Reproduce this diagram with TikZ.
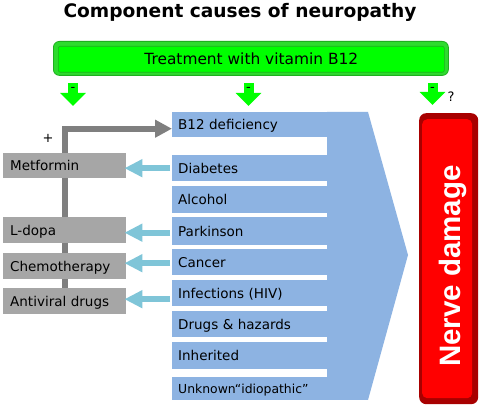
\documentclass[tikz,border=0pt]{standalone}
\usepackage{fontspec}
\setmainfont{DejaVu Sans}
\newfontfamily\nervefont{Liberation Sans}
\usetikzlibrary{arrows.meta}
\pgfdeclarelayer{background}
\pgfdeclarelayer{paper}
\pgfsetlayers{paper,background,main}
\definecolor{rowblue}{HTML}{8DB3E2}
\definecolor{boxgray}{HTML}{A6A6A6}
\definecolor{linegray}{HTML}{7F7F7F}
\definecolor{arrowaqua}{HTML}{7FC5D8}
\definecolor{gfill}{HTML}{00FF00}
\definecolor{gouter}{HTML}{2EDB2E}
\definecolor{gedge}{HTML}{1FAF1F}
\definecolor{redfill}{HTML}{FF0000}
\definecolor{reddark}{HTML}{A80000}
\begin{document}
\begin{tikzpicture}[x=1pt,y=-1pt,
  body/.style={font=\fontsize{13.5}{15}\selectfont, text height=9.8pt, text depth=0pt},
  rowbox/.style={body, fill=rowblue, anchor=north west, minimum width=156pt, text width=144pt, inner xsep=6pt, inner ysep=0pt, align=left},
  graybox/.style={body, fill=boxgray, anchor=north west, minimum width=123pt, text width=109pt, inner xsep=7pt, inner ysep=0pt, align=left},
  aquaarrow/.style={draw=arrowaqua, line width=6pt, -{Triangle[length=18pt,width=17pt]}},
  grayarrow/.style={draw=linegray, line width=6pt, -{Triangle[length=17pt,width=17pt]}},
  greenarrow/.style={draw=gfill, line width=10pt, -{Triangle[length=13pt,width=25pt]}},
  sign/.style={font=\fontsize{13}{15}\selectfont, inner sep=0pt},
]
\useasboundingbox (0,0) rectangle (480,406);
\begin{pgfonlayer}{paper}
\fill[white] (0,0) rectangle (480,406);
\end{pgfonlayer}

% title
\node[font=\bfseries\fontsize{18.6}{22}\selectfont, text height=13.5pt, text depth=0pt, inner sep=0pt] (title) at (240,10.5) {Component causes of neuropathy};

% treatment box
\node[draw=gedge, fill=gouter, rounded corners=6pt, minimum width=395pt, minimum height=34pt, anchor=north west, line width=0.8pt] (treatout) at (53,41) {};
\node[fill=gfill, draw=gedge, line width=0.6pt, minimum width=386pt, minimum height=26pt, rounded corners=2pt, anchor=north west, inner sep=0pt, font=\fontsize{15.4}{17}\selectfont, text height=11.2pt, text depth=0pt] (treat) at (58,46) {Treatment with vitamin B12};

% green arrows
\coordinate (g1s) at (73,83);  \coordinate (g1e) at (73,106);
\coordinate (g2s) at (248.5,83); \coordinate (g2e) at (248.5,106);
\coordinate (g3s) at (432.5,83); \coordinate (g3e) at (432.5,105);
\draw[greenarrow] (g1s) -- (g1e);
\draw[greenarrow] (g2s) -- (g2e);
\draw[greenarrow] (g3s) -- (g3e);
\node[sign] (m1) at (73,89) {-};
\node[sign] (m2) at (248.5,89) {-};
\node[sign] (m3) at (432.5,89) {-};
\node[sign] (q) at (451,97) {?};

% blue chevron
\fill[rowblue] (327,112) -- (368,112) -- (408,255) -- (368,400) -- (327,400) -- cycle;

% rows
\node[rowbox, minimum height=25pt] (b12) at (172,112) {B12 deficiency};
\node[rowbox, minimum height=26pt] (diab) at (172,155) {Diabetes};
\node[rowbox, minimum height=27pt] (alc) at (172,186) {Alcohol};
\node[rowbox, minimum height=28pt] (park) at (172,217) {Parkinson};
\node[rowbox, minimum height=26pt] (canc) at (172,249) {Cancer};
\node[rowbox, minimum height=26pt] (inf) at (172,280) {Infections (HIV)};
\node[rowbox, minimum height=26pt] (drug) at (172,311) {Drugs \& hazards};
\node[rowbox, minimum height=27pt] (inh) at (172,342) {Inherited};
\node[rowbox, minimum height=23pt, font=\fontsize{12.4}{14}\selectfont, text height=9pt] (unk) at (172,377) {Unknown“idiopathic”};

% gray boxes
\node[graybox, minimum height=25pt] (met) at (3,153) {Metformin};
\node[graybox, minimum height=26pt] (ldopa) at (3,217) {L-dopa};
\node[graybox, minimum height=26pt] (chemo) at (3,253) {Chemotherapy};
\node[graybox, minimum height=26pt] (anti) at (3,288) {Antiviral drugs};

% gray connector behind boxes
\begin{pgfonlayer}{background}
\draw[grayarrow] (anti.north) |- ([yshift=-4pt]b12.west);
\end{pgfonlayer}
\node[sign] (plus) at (48,138) {+};

% aqua arrows
\draw[aquaarrow] ([xshift=-2pt]diab.west) -- ([xshift=-2pt]diab.west -| met.east);
\draw[aquaarrow] ([xshift=-2pt,yshift=-1.5pt]park.west) -- ([xshift=-2pt,yshift=-1.5pt]park.west -| ldopa.east);
\draw[aquaarrow] ([xshift=-2pt,yshift=-1pt]canc.west) -- ([xshift=-2pt,yshift=-1pt]canc.west -| chemo.east);
\draw[aquaarrow] ([xshift=-2pt,yshift=-6pt]inf.west) -- ([xshift=-2pt,yshift=-6pt]inf.west -| anti.east);

% nerve damage box
\node[fill=reddark, rounded corners=7pt, minimum width=59pt, minimum height=291pt, anchor=north west, inner sep=0pt] (nerveout) at (419,113) {};
\node[fill=redfill, rounded corners=5pt, minimum width=50pt, minimum height=279pt, anchor=north west, inner sep=0pt] (nerve) at (422,119) {};
\node[rotate=90, text=white, font=\nervefont\bfseries\fontsize{29.5}{32}\selectfont, text height=21pt, text depth=0pt, inner sep=0pt] (nervetxt) at (450,266) {Nerve damage};
\end{tikzpicture}
\end{document}
